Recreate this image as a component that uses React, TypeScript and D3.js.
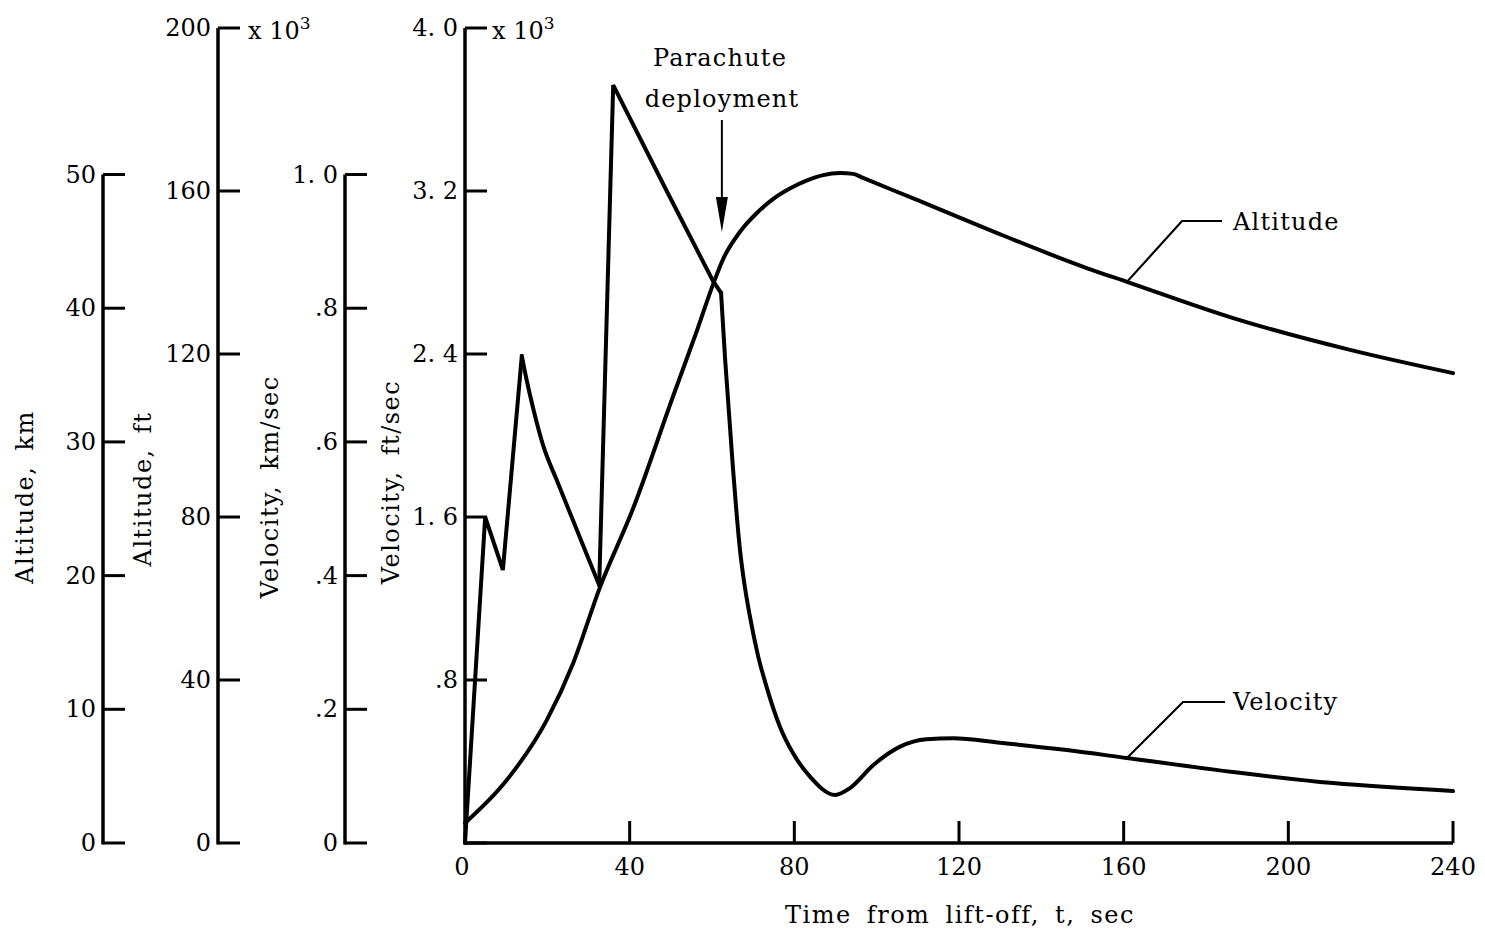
import React from "react";
import * as d3 from "d3";

// time from lift-off, sec / velocity, 10^3 ft/sec
// first burn spikes (straight segments)
const spikeTime = [0, 4.9, 9.2, 13.8];
const spikeVelocity = [0, 1.6, 1.34, 2.39];
// coast decay after second spike (smooth)
const decayTime = [13.8, 15.0, 16.6, 19.0, 22.3, 26.3, 29.6, 32.6];
const decayVelocity = [2.39, 2.27, 2.13, 1.95, 1.78, 1.58, 1.415, 1.266];
// sustainer burn up to parachute deployment (straight segments)
const burnTime = [32.6, 36, 49, 60.2, 62.2];
const burnVelocity = [1.266, 3.72, 3.2, 2.76, 2.7];
// after parachute deployment (smooth)
const descentTime = [62.2, 63.2, 65.0, 66.8, 67.6, 69.2, 71.2, 73.2, 76.5, 79.7, 83.8, 89.9, 93.5, 99.2, 105.7, 112.1, 118.6, 130, 146.2, 160.8, 186.6, 210.9, 240];
const descentVelocity = [2.7, 2.37, 1.865, 1.438, 1.309, 1.113, 0.917, 0.77, 0.571, 0.44, 0.326, 0.236, 0.269, 0.383, 0.473, 0.509, 0.514, 0.492, 0.456, 0.417, 0.348, 0.294, 0.255];

// altitude, 10^3 ft
const altTime = [0, 10.2, 19.9, 26.3, 32.8, 40.8, 50.5, 56.4, 60.3, 62.7, 66.8, 70.9, 74.8, 78.9, 83.1, 87, 91.1, 94.3, 96.7, 109.8, 127.5, 151, 160.8, 186.6, 215, 240];
const altValue = [4.9, 15.5, 30.2, 44.2, 62.8, 82, 109.5, 125.9, 137.2, 143.3, 150.0, 154.6, 158.0, 160.6, 162.6, 163.9, 164.4, 164.2, 163.2, 157.8, 150.4, 141.1, 137.7, 128.8, 121, 115.3];

const kmTicks = [0, 10, 20, 30, 40, 50];
const ftTicks = [0, 40, 80, 120, 160, 200];
const kmsTicks = [0, 0.2, 0.4, 0.6, 0.8, 1.0];
const kmsLabels = ["0", ".2", ".4", ".6", ".8", "1. 0"];
const ftsTicks = [0, 0.8, 1.6, 2.4, 3.2, 4.0];
const ftsLabels = ["0", ".8", "1. 6", "2. 4", "3. 2", "4. 0"];
const timeTicks = [0, 40, 80, 120, 160, 200, 240];

const FT_PER_M = 3.28084;
const font = "DejaVu Serif";
const fs = 24;

export default function App() {
  const x = d3.scaleLinear().domain([0, 240]).range([465, 1453]);
  const yVel = d3.scaleLinear().domain([0, 4]).range([843, 28]);
  const yAlt = d3.scaleLinear().domain([0, 200]).range([843, 28]);
  const yKm = d3.scaleLinear().domain([0, 50]).range([yAlt(0), yAlt(50 * FT_PER_M)]);
  const yKms = d3.scaleLinear().domain([0, 1]).range([yVel(0), yVel(FT_PER_M)]);

  const pts = (ts: number[], vs: number[]) => ts.map((t, i) => [t, vs[i]] as [number, number]);

  const velLinear = d3.line<[number, number]>().x((d) => x(d[0])).y((d) => yVel(d[1]));
  const velSmooth = d3.line<[number, number]>().x((d) => x(d[0])).y((d) => yVel(d[1])).curve(d3.curveMonotoneX);
  const altLine = d3.line<[number, number]>().x((d) => x(d[0])).y((d) => yAlt(d[1])).curve(d3.curveMonotoneX);

  const tickLen = 22;

  const leftAxis = (
    ax: number,
    scale: d3.ScaleLinear<number, number>,
    ticks: number[],
    labels: string[],
    key: string,
    zeroBelow = false
  ) => {
    const [r0, r1] = scale.range();
    return (
      <g key={key}>
        <line x1={ax} x2={ax} y1={r0 + 1.5} y2={r1} stroke="#000" strokeWidth={3.5} />
        {ticks.map((t, i) => (
          <g key={i}>
            <line x1={ax} x2={ax + tickLen} y1={scale(t)} y2={scale(t)} stroke="#000" strokeWidth={3} />
            {!(zeroBelow && t === 0) && (
              <text x={ax - 7} y={scale(t)} textAnchor="end" dominantBaseline="central" fontFamily={font} fontSize={fs}>
                {labels[i]}
              </text>
            )}
          </g>
        ))}
      </g>
    );
  };

  const rotTitle = (cx: number, cy: number, txt: string) => (
    <text
      transform={`translate(${cx},${cy}) rotate(-90)`}
      textAnchor="middle"
      dominantBaseline="central"
      fontFamily={font}
      fontSize={fs}
      letterSpacing={1.5}
      wordSpacing={6}
    >
      {txt}
    </text>
  );

  const arrowX = x(62.4);
  const label = { fontFamily: font, fontSize: fs, letterSpacing: 1.2, dominantBaseline: "central" as const };

  return (
    <svg width={1485} height={937} style={{ position: "absolute", left: 0, top: 0, background: "#fff" }}>
      {/* stacked left axes */}
      {leftAxis(103, yKm, kmTicks, kmTicks.map(String), "km")}
      {leftAxis(218, yAlt, ftTicks, ftTicks.map(String), "ft")}
      {leftAxis(345, yKms, kmsTicks, kmsLabels, "kms")}
      {leftAxis(465, yVel, ftsTicks, ftsLabels, "fts", true)}

      {rotTitle(25, 497, "Altitude, km")}
      {rotTitle(143, 489, "Altitude, ft")}
      {rotTitle(270, 487, "Velocity, km/sec")}
      {rotTitle(391, 482, "Velocity, ft/sec")}

      <text x={248} y={39} fontFamily={font} fontSize={fs}>
        x 10<tspan dy={-10} fontSize={17}>3</tspan>
      </text>
      <text x={492} y={39} fontFamily={font} fontSize={fs}>
        x 10<tspan dy={-10} fontSize={17}>3</tspan>
      </text>

      {/* time axis */}
      <line x1={x(0)} x2={x(240)} y1={843} y2={843} stroke="#000" strokeWidth={3.5} />
      {timeTicks.map((t) => (
        <g key={t}>
          {t > 0 && <line x1={x(t)} x2={x(t)} y1={843} y2={843 - tickLen} stroke="#000" strokeWidth={3} />}
          <text x={x(t) - (t === 0 ? 3 : 0)} y={867} textAnchor="middle" dominantBaseline="central" fontFamily={font} fontSize={fs}>
            {t}
          </text>
        </g>
      ))}
      <text x={960} y={915} textAnchor="middle" {...label} letterSpacing={1.5} wordSpacing={6}>
        Time from lift-off, t, sec
      </text>

      {/* curves */}
      <g fill="none" stroke="#000" strokeWidth={4} strokeLinejoin="miter" strokeLinecap="round">
        <path d={velLinear(pts(spikeTime, spikeVelocity)) ?? ""} />
        <path d={velSmooth(pts(decayTime, decayVelocity)) ?? ""} />
        <path d={velLinear(pts(burnTime, burnVelocity)) ?? ""} />
        <path d={velSmooth(pts(descentTime, descentVelocity)) ?? ""} />
        <path d={altLine(pts(altTime, altValue)) ?? ""} />
      </g>

      {/* parachute annotation */}
      <text x={720} y={58} textAnchor="middle" {...label}>
        Parachute
      </text>
      <text x={722} y={99} textAnchor="middle" {...label}>
        deployment
      </text>
      <line x1={arrowX} x2={arrowX} y1={120} y2={205} stroke="#000" strokeWidth={2} />
      <path d={`M${arrowX - 6},197 L${arrowX + 6},197 L${arrowX},232 Z`} fill="#000" />

      {/* curve labels */}
      <path d={`M${x(160.8)},${yAlt(137.7)} L1182,221 L1222,221`} fill="none" stroke="#000" strokeWidth={2.2} />
      <text x={1233} y={222} {...label}>
        Altitude
      </text>
      <path d={`M${x(160.8)},${yVel(0.417)} L1183,702 L1225,702`} fill="none" stroke="#000" strokeWidth={2.2} />
      <text x={1233} y={702} {...label}>
        Velocity
      </text>
    </svg>
  );
}
